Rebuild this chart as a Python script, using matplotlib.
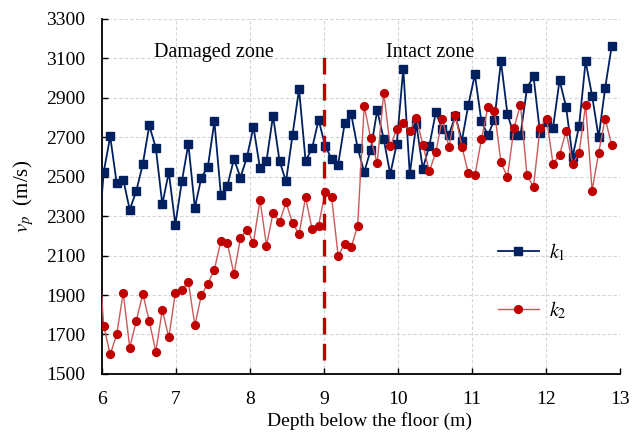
"""Vp profile along depth: damaged vs intact zone (k1 / k2 boreholes)."""
import matplotlib
matplotlib.use("Agg")
import matplotlib.pyplot as plt  # noqa: E402

plt.rcParams["font.family"] = ["Liberation Serif", "DejaVu Serif"]
plt.rcParams["mathtext.fontset"] = "stix"

# depth (m); first sample sits just left of the axis and is clipped
depth = [5.935, 6.023, 6.111, 6.199, 6.287, 6.375, 6.463, 6.551, 6.639, 6.727,
         6.815, 6.903, 6.991, 7.079, 7.167, 7.255, 7.343, 7.431, 7.519, 7.607,
         7.695, 7.783, 7.871, 7.959, 8.047, 8.135, 8.223, 8.311, 8.399, 8.487,
         8.575, 8.663, 8.751, 8.839, 8.927, 9.015, 9.103, 9.191, 9.279, 9.367,
         9.455, 9.543, 9.631, 9.719, 9.807, 9.895, 9.983, 10.071, 10.159, 10.247,
         10.335, 10.423, 10.511, 10.599, 10.687, 10.775, 10.863, 10.951, 11.039,
         11.127, 11.215, 11.303, 11.391, 11.479, 11.567, 11.655, 11.743, 11.831,
         11.919, 12.007, 12.095, 12.183, 12.271, 12.359, 12.447, 12.535, 12.623,
         12.711, 12.799, 12.887]

vp_k1 = [2100, 2522, 2703, 2466, 2485, 2332, 2426, 2562, 2759, 2646,
         2360, 2522, 2256, 2475, 2665, 2342, 2495, 2550, 2779, 2407,
         2454, 2589, 2495, 2599, 2751, 2542, 2579, 2808, 2579, 2475,
         2712, 2943, 2579, 2643, 2788, 2656, 2589, 2560, 2769, 2816,
         2645, 2522, 2635, 2835, 2690, 2512, 2665, 3047, 2512, 2766,
         2540, 2656, 2825, 2741, 2712, 2806, 2682, 2864, 3017, 2779,
         2710, 2788, 3084, 2816, 2710, 2710, 2948, 3008, 2721, 2774,
         2747, 2988, 2853, 2599, 2757, 3084, 2909, 2698, 2948, 3160]

vp_k2 = [2240, 1744, 1599, 1700, 1911, 1633, 1768, 1907, 1768, 1613,
         1825, 1685, 1911, 1926, 1966, 1746, 1900, 1958, 2029, 2175,
         2162, 2005, 2188, 2231, 2165, 2382, 2150, 2315, 2271, 2369,
         2263, 2209, 2395, 2234, 2252, 2421, 2395, 2098, 2160, 2141,
         2251, 2858, 2693, 2567, 2925, 2653, 2739, 2769, 2729, 2798,
         2662, 2527, 2623, 2794, 2651, 2813, 2651, 2517, 2506, 2688,
         2853, 2833, 2572, 2496, 2747, 2864, 2506, 2449, 2746, 2794,
         2564, 2611, 2729, 2564, 2620, 2864, 2429, 2620, 2794, 2660]

boundary = 9.0
boundary_span = [1570, 3150]
x_ticks = [6, 7, 8, 9, 10, 11, 12, 13]
y_ticks = [1500, 1700, 1900, 2100, 2300, 2500, 2700, 2900, 3100, 3300]

fig = plt.figure(figsize=(6.39, 4.33), dpi=100)
ax = fig.add_axes([0.1596, 0.1363, 0.8107, 0.8207])

ax.plot(depth, vp_k1, color="#002060", lw=1.3, marker="s", ms=5.2,
        mfc="#002060", mec="#002060", label="$k_1$", zorder=3)
ax.plot(depth, vp_k2, color="#c85a5a", lw=1.0, marker="o", ms=5.6,
        mfc="#c00000", mec="#c00000", label="$k_2$", zorder=3)

ax.plot([boundary, boundary], boundary_span, color="#c00000", lw=2.4,
        dashes=(5, 2.8), zorder=4)

ax.text(7.51, 3107, "Damaged zone", fontsize=14.5, ha="center", va="baseline")
ax.text(10.44, 3107, "Intact zone", fontsize=14.5, ha="center", va="baseline")

ax.set_xlim(6, 13)
ax.set_ylim(1500, 3300)
ax.set_xticks(x_ticks)
ax.set_yticks(y_ticks)
ax.tick_params(direction="in", length=4, width=1.0, labelsize=14)
ax.tick_params(axis="x", pad=12)
ax.tick_params(axis="y", pad=12)
ax.grid(True, color="#d4d4d4", lw=0.8, ls=(0, (3, 2)))
ax.set_axisbelow(True)
for side in ("top", "right"):
    ax.spines[side].set_visible(False)
for side in ("left", "bottom"):
    ax.spines[side].set_linewidth(1.3)

ax.set_xlabel("Depth below the floor (m)", fontsize=14)
ax.set_ylabel("$v_p$  (m/s)", fontsize=15)
ax.xaxis.set_label_coords(0.517, -0.108)
ax.yaxis.set_label_coords(-0.128, 0.5)

ax.legend(loc="center left", bbox_to_anchor=(0.73, 0.26), frameon=False,
          fontsize=14.5, handlelength=2.0, handletextpad=0.5,
          labelspacing=1.8, numpoints=1)

fig.savefig("out.png", dpi=100)
plt.close(fig)
